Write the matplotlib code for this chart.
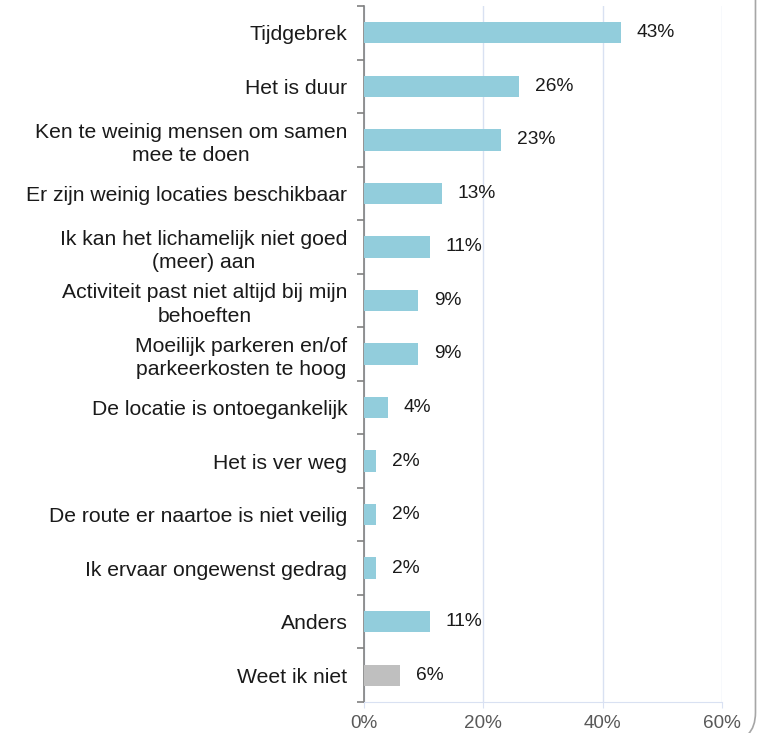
import matplotlib.pyplot as plt
from matplotlib.patches import FancyBboxPatch
import numpy as np

plt.rcParams['font.family'] = ['Liberation Sans', 'DejaVu Sans']

# Data
categories = ['Tijdgebrek', 'Het is duur', 'Ken te weinig mensen om samen\nmee te doen',
              'Er zijn weinig locaties beschikbaar', 'Ik kan het lichamelijk niet goed\n(meer) aan',
              'Activiteit past niet altijd bij mijn\nbehoeften', 'Moeilijk parkeren en/of\nparkeerkosten te hoog',
              'De locatie is ontoegankelijk', 'Het is ver weg', 'De route er naartoe is niet veilig',
              'Ik ervaar ongewenst gedrag', 'Anders', 'Weet ik niet']
values = [43, 26, 23, 13, 11, 9, 9, 4, 2, 2, 2, 11, 6]
colors = ['#92CDDC'] * 12 + ['#BFBFBF']
xticks = [0, 20, 40, 60]
xticklabels = ['0%', '20%', '40%', '60%']

fig = plt.figure(figsize=(7.57, 7.33), dpi=100)
ax = fig.add_axes([364 / 757, 31 / 733, 358 / 757, 696 / 733])

y = np.arange(len(categories))
ax.barh(y, values, height=0.4, color=colors, zorder=3)
for yi, v in zip(y, values):
    ax.text(v + 2.7, yi, f'{v}%', va='center', ha='left', fontsize=13.8, color='#1a1a1a')

ax.set_ylim(len(categories) - 0.5, -0.5)
ax.set_xlim(0, 60)
ax.set_yticks(y)
ax.set_yticklabels(categories, fontsize=15.2, color='#1a1a1a', linespacing=1.3)
for lbl in ax.get_yticklabels():
    lbl.set_multialignment('center')
ax.set_yticks(np.arange(-0.5, len(categories)), minor=True)
ax.tick_params(axis='y', which='major', length=0, pad=12)
ax.tick_params(axis='y', which='minor', length=5, color='#808080', width=1.2)
ax.set_xticks(xticks)
ax.set_xticklabels(xticklabels, fontsize=13.6, color='#595959')
ax.tick_params(axis='x', length=4, color='#D9E1F2', pad=5)

ax.grid(axis='x', color='#D9E1F2', linewidth=1, zorder=0)
for s in ['top', 'right']:
    ax.spines[s].set_visible(False)
ax.spines['left'].set_color('#808080')
ax.spines['left'].set_linewidth(1.2)
ax.spines['bottom'].set_color('#D9E1F2')

# frame edge visible at the right side
frame = FancyBboxPatch((-0.5, -0.012), 1.498, 1.6, boxstyle='round,pad=0,rounding_size=0.04',
                       transform=fig.transFigure, fill=False, edgecolor='#A6A6A6', linewidth=1.2)
fig.patches.append(frame)

fig.savefig('out.png', dpi=100)
